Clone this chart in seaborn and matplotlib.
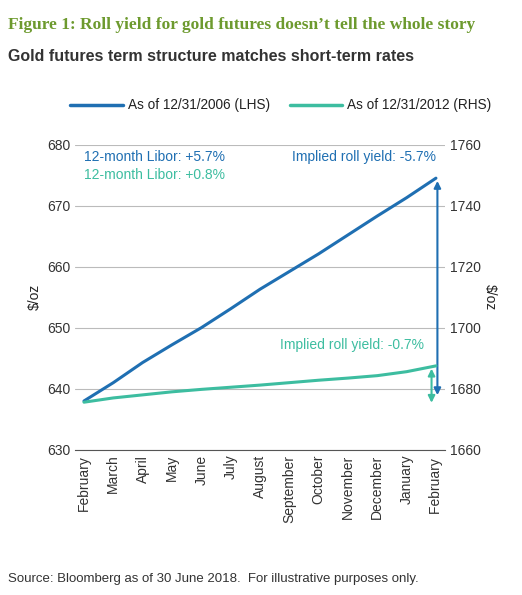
import matplotlib
matplotlib.use("Agg")
import matplotlib.pyplot as plt
import seaborn as sns
import pandas as pd

months = ["February","March","April","May","June","July","August","September",
          "October","November","December","January","February "]
lhs_2006 = [638.0,641.0,644.3,647.2,650.0,653.1,656.3,659.2,662.1,665.2,668.3,671.3,674.5]
rhs_2012 = [1675.6,1677.0,1678.0,1679.0,1679.8,1680.5,1681.2,1682.0,1682.8,1683.5,1684.3,1685.6,1687.5]

blue = "#1f6fb2"
teal = "#3dbda0"

sns.set_style("white")
plt.rcParams['font.family'] = ['Liberation Sans', 'DejaVu Sans']

fig = plt.figure(figsize=(5.22, 5.95), dpi=100)
ax = fig.add_axes([0.144, 0.244, 0.708, 0.513])
x = list(range(len(months)))
df = pd.DataFrame({"x": x, "lhs": lhs_2006, "rhs": rhs_2012})
sns.lineplot(data=df, x="x", y="lhs", ax=ax, color=blue, lw=2.2)
ax2 = ax.twinx()
sns.lineplot(data=df, x="x", y="rhs", ax=ax2, color=teal, lw=2.2)

ax.set_ylim(630, 680); ax2.set_ylim(1660, 1760)
ax.set_yticks(range(630, 681, 10)); ax2.set_yticks(range(1660, 1761, 20))
ax.set_xlim(-0.3, 12.3)
ax.set_xticks(x); ax.set_xticklabels(months, rotation=90, fontsize=10)
ax.grid(axis="y", color="#bbbbbb", lw=0.8); ax.set_axisbelow(True)
for a in (ax, ax2):
    for s in a.spines.values():
        s.set_visible(False)
    a.tick_params(axis="y", labelsize=10, length=0, colors="#333333")
ax.spines["bottom"].set_visible(True); ax.spines["bottom"].set_color("#555555")
ax.tick_params(axis="x", length=0, colors="#333333")
ax.set_xlabel(""); ax.set_ylabel("$/oz", fontsize=10); ax2.set_ylabel("$/oz", fontsize=10, rotation=270, labelpad=12)

ax.annotate("", xy=(12.05, lhs_2006[-1]), xytext=(12.05, 638.5),
            arrowprops=dict(arrowstyle="<|-|>", color=blue, lw=1.5))
ax2.annotate("", xy=(11.85, rhs_2012[-1]), xytext=(11.85, 1674.5),
             arrowprops=dict(arrowstyle="<|-|>", color=teal, lw=1.5))

ax.text(0.0, 677.3, "12-month Libor: +5.7%", color=blue, fontsize=10)
ax.text(0.0, 674.3, "12-month Libor: +0.8%", color=teal, fontsize=10)
ax.text(12.0, 677.3, "Implied roll yield: -5.7%", color=blue, fontsize=10, ha="right")
ax2.text(11.6, 1693, "Implied roll yield: -0.7%", color=teal, fontsize=10, ha="right")

fig.text(0.015, 0.972, "Figure 1: Roll yield for gold futures doesn\u2019t tell the whole story",
         family="Liberation Serif", fontweight="bold", color="#6d9a2e", fontsize=12.5, va="top")
fig.text(0.015, 0.918, "Gold futures term structure matches short-term rates",
         fontweight="bold", color="#333333", fontsize=11.5, va="top")
ly = 0.824
fig.lines.append(plt.Line2D([0.134, 0.235], [ly, ly], color=blue, lw=2.5, transform=fig.transFigure))
fig.text(0.245, ly, "As of 12/31/2006 (LHS)", fontsize=9.8, va="center", color="#222222")
fig.lines.append(plt.Line2D([0.555, 0.655], [ly, ly], color=teal, lw=2.5, transform=fig.transFigure))
fig.text(0.665, ly, "As of 12/31/2012 (RHS)", fontsize=9.8, va="center", color="#222222")
fig.text(0.015, 0.022, "Source: Bloomberg as of 30 June 2018.  For illustrative purposes only.",
         fontsize=9.5, color="#333333")
fig.savefig("out.png", dpi=100)
